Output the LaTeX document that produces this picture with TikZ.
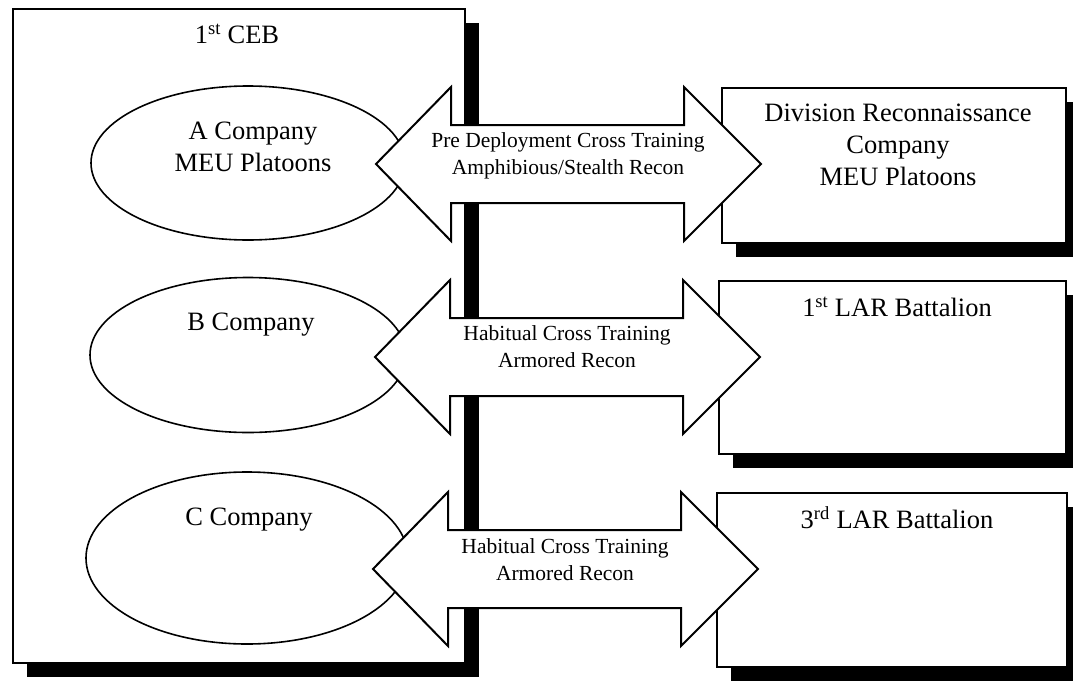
\documentclass[tikz,border=0pt]{standalone}
\usepackage{fontspec}
\setmainfont{Liberation Serif}
\usetikzlibrary{shapes.geometric,shadows}
\begin{document}
\begin{tikzpicture}[x=1pt,y=-1pt,line width=2pt,
		unitbox/.style={draw,fill=white,rectangle,inner sep=0pt,drop shadow={shadow xshift=14pt,shadow yshift=-14pt,fill=black,opacity=1}},
		company/.style={draw,fill=white,ellipse,inner sep=0pt,line width=1.6pt},
		bigtext/.style={font=\fontsize{26.5}{32}\selectfont,align=center,inner sep=0pt},
		arrtext/.style={font=\fontsize{21.5}{27}\selectfont,align=center,inner sep=0pt}]
			\useasboundingbox (0,0) rectangle (1073,683);
			\clip (0,0) rectangle (1073,683);
			% 1st CEB and its companies
			\node[unitbox,minimum width=452pt,minimum height=654pt] (ceb) at (239,336) {};
			\node[bigtext] (cebname) at (237,34) {1\textsuperscript{st} CEB};
			\node[company,minimum width=314pt,minimum height=154pt] (coA) at (248,163) {};
			\node[company,minimum width=316pt,minimum height=155pt] (coB) at (248,355) {};
			\node[company,minimum width=322pt,minimum height=172pt] (coC) at (247,558) {};
			\node[bigtext] (coAname) at (253,147) {A Company\\MEU Platoons};
			\node[bigtext] (coBname) at (251,325) {B Company};
			\node[bigtext] (coCname) at (249,520) {C Company};
			% recon units
			\node[unitbox,minimum width=344pt,minimum height=155pt] (divrecon) at (894,165) {};
			\node[unitbox,minimum width=347pt,minimum height=173pt] (larone) at (892,367) {};
			\node[unitbox,minimum width=350pt,minimum height=174pt] (larthree) at (892,580) {};
			\node[bigtext] (divreconname) at (898,145) {Division Reconnaissance\\Company\\MEU Platoons};
			\node[bigtext] (laronename) at (897,307) {1\textsuperscript{st} LAR Battalion};
			\node[bigtext] (larthreename) at (897,518) {3\textsuperscript{rd} LAR Battalion};
			% cross training arrows
			\foreach \ay/\ax in {164/0,357/-1,569/-3}
				\draw[fill=white] (376+\ax,\ay) -- (451+\ax,\ay-77) -- (451+\ax,\ay-39) -- (684+\ax,\ay-39) -- (684+\ax,\ay-77) -- (761+\ax,\ay) -- (684+\ax,\ay+77) -- (684+\ax,\ay+39) -- (451+\ax,\ay+39) -- (451+\ax,\ay+77) -- cycle;
			\node[arrtext] (xtrA) at (568,156) {Pre Deployment Cross Training\\Amphibious/Stealth Recon};
			\node[arrtext] (xtrB) at (567,347) {Habitual Cross Training\\Armored Recon};
			\node[arrtext] (xtrC) at (565,560) {Habitual Cross Training\\Armored Recon};
\end{tikzpicture}
\end{document}
